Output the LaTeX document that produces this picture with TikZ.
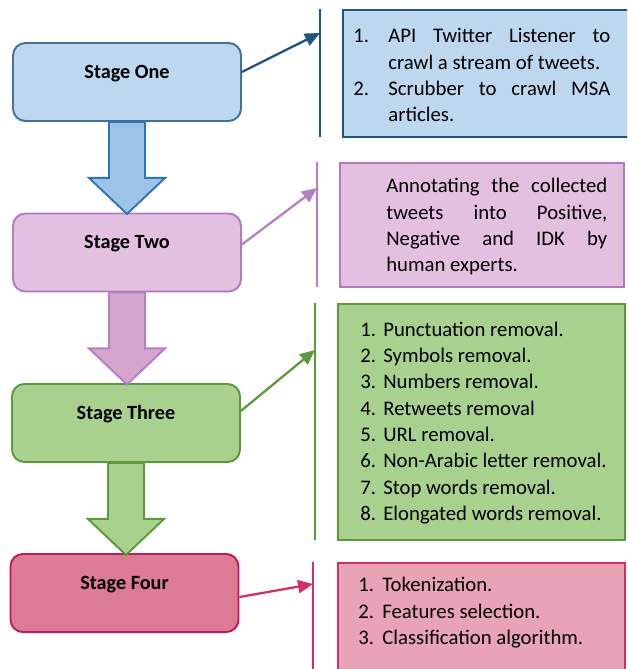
\documentclass[tikz,border=0pt]{standalone}
\usepackage{fontspec}
\setmainfont{Carlito}
\usetikzlibrary{arrows.meta}

\definecolor{oneFill}{HTML}{BDD7EE}
\definecolor{oneLine}{HTML}{41719C}
\definecolor{oneDark}{HTML}{1F5384}
\definecolor{oneArrowFill}{HTML}{9DC3E6}
\definecolor{oneArrowLine}{HTML}{2E75B6}
\definecolor{twoFill}{HTML}{E3C0DF}
\definecolor{twoLine}{HTML}{B07CC0}
\definecolor{twoArrowFill}{HTML}{D5A6CD}
\definecolor{twoArrowLine}{HTML}{B57FC6}
\definecolor{threeFill}{HTML}{A9D18E}
\definecolor{threeLine}{HTML}{5B9A3A}
\definecolor{fourFill}{HTML}{DD7B97}
\definecolor{fourLine}{HTML}{C3185E}
\definecolor{fourBoxFill}{HTML}{E8A3B6}
\definecolor{fourBoxLine}{HTML}{D52D69}

\begin{document}
\begin{tikzpicture}[x=0.02cm,y=-0.02cm]
	\tikzstyle{every node}=[font=\fontsize{11.8}{15}\selectfont]
	\tikzstyle{stagebox}=[draw,rounded corners=7pt,line width=1.1pt,minimum width=4.56cm,inner sep=0pt,text height=0.705cm,text depth=0.855cm,font=\fontsize{11.5}{15}\selectfont\bfseries]
	\tikzstyle{listbox}=[line width=1.3pt]
	\tikzstyle{listtext}=[anchor=west,inner sep=0pt,align=left]
	\tikzstyle{bar}=[line width=1.3pt]
	\tikzstyle{pointer}=[line width=1.3pt,-{Triangle[length=0.3cm,width=0.26cm]}]
	\tikzstyle{bigarrow}=[line width=1.1pt]

	\useasboundingbox (0,0) rectangle (627,669);
	\clip (0,0) rectangle (627,669);

	\node [stagebox,fill=oneFill,draw=oneLine] (stage1) at (127,82) {Stage One};
	\node [stagebox,fill=twoFill,draw=twoLine] (stage2) at (127,252.5) {Stage Two};
	\node [stagebox,fill=threeFill,draw=threeLine] (stage3) at (126,423) {Stage Three};
	\node [stagebox,fill=fourFill,draw=fourLine] (stage4) at (124.5,593) {Stage Four};

	\foreach \a/\f/\d in {stage1/oneArrowFill/oneArrowLine, stage2/twoArrowFill/twoArrowLine, stage3/threeFill/threeLine}
		\draw [bigarrow,fill=\f,draw=\d,shift={(\a.south)}] (-18,0) -- (-18,56) -- (-38,56) -- (0,92) -- (38,56) -- (18,56) -- (18,0) -- cycle;

	\draw [listbox,fill=oneFill,draw=oneDark] (343,10) rectangle (640,137);
	\node [listtext] (list1) at (353,77) {\begin{tabular}{@{}p{0.7cm}@{}l@{}}
		1. & \makebox[4.44cm][s]{API Twitter Listener to}\\
		   & crawl a stream of tweets.\\
		2. & \makebox[4.44cm][s]{Scrubber to crawl MSA}\\
		   & articles.
	\end{tabular}};

	\draw [listbox,fill=twoFill,draw=twoLine] (340,163) rectangle (624,287);
	\node [listtext] (list2) at (386,227) {\begin{tabular}{@{}l@{}}
		\makebox[4.42cm][s]{Annotating the collected}\\
		\makebox[4.42cm][s]{tweets into Positive,}\\
		\makebox[4.42cm][s]{Negative and IDK by}\\
		human experts.
	\end{tabular}};

	\draw [listbox,fill=threeFill,draw=threeLine] (338,304) rectangle (625,540);
	\node [listtext] (list3) at (360,423) {\begin{tabular}{@{}p{0.46cm}@{}l@{}}
		1. & Punctuation removal.\\
		2. & Symbols removal.\\
		3. & Numbers removal.\\
		4. & Retweets removal\\
		5. & URL removal.\\
		6. & Non-Arabic letter removal.\\
		7. & Stop words removal.\\
		8. & Elongated words removal.
	\end{tabular}};

	\draw [listbox,fill=fourBoxFill,draw=fourBoxLine] (338,563) rectangle (625,700);
	\node [listtext] (list4) at (358,613) {\begin{tabular}{@{}p{0.48cm}@{}l@{}}
		1. & Tokenization.\\
		2. & Features selection.\\
		3. & Classification algorithm.
	\end{tabular}};

	\coordinate (bar1top) at (320,9);
	\coordinate (bar1bot) at (320,137);
	\coordinate (tip1) at (320,33);
	\coordinate (bar2top) at (317,162);
	\coordinate (bar2bot) at (317,287);
	\coordinate (tip2) at (317,188);
	\coordinate (bar3top) at (315,303);
	\coordinate (bar3bot) at (315,540);
	\coordinate (tip3) at (315,350);
	\coordinate (bar4top) at (313,562);
	\coordinate (bar4bot) at (313,700);
	\coordinate (tip4) at (313,584);

	\draw [bar,draw=oneDark] (bar1top) -- (bar1bot);
	\draw [bar,draw=twoArrowLine] (bar2top) -- (bar2bot);
	\draw [bar,draw=threeLine] (bar3top) -- (bar3bot);
	\draw [bar,draw=fourBoxLine] (bar4top) -- (bar4bot);

	\draw [pointer,oneDark] (stage1.5) -- (tip1);
	\draw [pointer,twoArrowLine] (stage2.4) -- (tip2);
	\draw [pointer,threeLine] (stage3.6) -- (tip3);
	\draw [pointer,fourBoxLine] (stage4.358) -- (tip4);
\end{tikzpicture}
\end{document}
